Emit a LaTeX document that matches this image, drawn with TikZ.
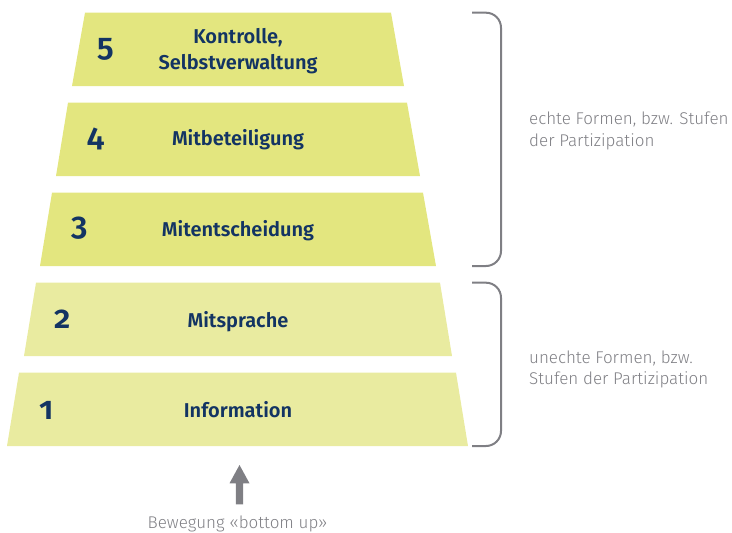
\documentclass[tikz,border=0pt]{standalone}
\usepackage{fontspec}
\setmainfont{Fira Sans}[BoldFont={Fira Sans SemiBold}]
\newfontfamily\numfont{Fira Sans}[Numbers=OldStyle, BoldFont={Fira Sans SemiBold}]
\newfontfamily\lightfont{Fira Sans Light}
\begin{document}
\definecolor{stepdark}{HTML}{E3E67F}
\definecolor{steplight}{HTML}{E9EBA0}
\definecolor{navy}{HTML}{133463}
\definecolor{bracegray}{HTML}{7F7F84}
\definecolor{notegray}{HTML}{808085}
\begin{tikzpicture}[x=1pt,y=-1pt,
  lvl/.style={font=\fontsize{20}{24}\selectfont\bfseries, text=navy, inner sep=0pt, anchor=base},
  num/.style={font=\numfont\fontsize{32}{36}\selectfont\bfseries, text=navy, inner sep=0pt, anchor=base},
  note/.style={font=\lightfont\fontsize{17}{21}\selectfont, text=notegray, inner sep=0pt, anchor=base west},
  brace/.style={draw=bracegray, line width=2pt, rounded corners=15pt}]
\useasboundingbox (0,0) rectangle (732,533);

% pyramid steps, top to bottom
\fill[stepdark]  (85,12.7)  -- (391,12.7)  -- (404,86)  -- (72,86)  -- cycle;
\fill[stepdark]  (68,102.7) -- (407,102.7) -- (420,176) -- (56,176) -- cycle;
\fill[stepdark]  (52,192.7) -- (423,192.7) -- (436,266) -- (40,266) -- cycle;
\fill[steplight] (36,282.7) -- (440,282.7) -- (452,356) -- (24,356) -- cycle;
\fill[steplight] (19,372.7) -- (456,372.7) -- (468,446) -- (7,446)  -- cycle;

% step numbers
\node[num] (n5) at (106,56) {5};
\node[num] (n4) at (96,146) {4};
\node[num] (n3) at (80,235.5) {3};
\node[num] (n2) at (63,328) {2};
\node[num] (n1) at (47,419) {1};

% step names
\node[lvl] (l5a) at (238,43) {Kontrolle,};
\node[lvl] (l5b) at (238,69) {Selbstverwaltung};
\node[lvl] (l4) at (238,145) {Mitbeteiligung};
\node[lvl] (l3) at (238,236) {Mitentscheidung};
\node[lvl] (l2) at (238,327) {Mitsprache};
\node[lvl] (l1) at (238,417) {Information};

% grouping brackets
\coordinate (b1t) at (472,12.7);
\coordinate (b1b) at (501,266);
\coordinate (b1e) at (472,266);
\coordinate (b2t) at (472,282.7);
\coordinate (b2b) at (501,446);
\coordinate (b2e) at (472,446);
\draw[brace] (b1t) -| (b1b) -- (b1e);
\draw[brace] (b2t) -| (b2b) -- (b2e);

% group descriptions
\node[note] (g1a) at (529,124) {echte Formen, bzw. Stufen};
\node[note] (g1b) at (529,146.5) {der Partizipation};
\node[note] (g2a) at (529,363.3) {unechte Formen, bzw.};
\node[note] (g2b) at (529,384.7) {Stufen der Partizipation};

% direction of movement
\node[font=\lightfont\fontsize{17}{21}\selectfont, text=notegray, inner sep=0pt, anchor=base] (cap) at (237.5,528.5) {Bewegung «bottom up»};
\coordinate (arrowfoot) at (239.5,504.3);
\coordinate (arrowtip) at (239.5,465);
\fill[bracegray] (arrowtip) -- ++(10,18.3) -- ++(-6.3,0) -- (243.2,504.3) -- (235.8,504.3) -- (235.8,483.3) -- (229.5,483.3) -- cycle;
\end{tikzpicture}
\end{document}
